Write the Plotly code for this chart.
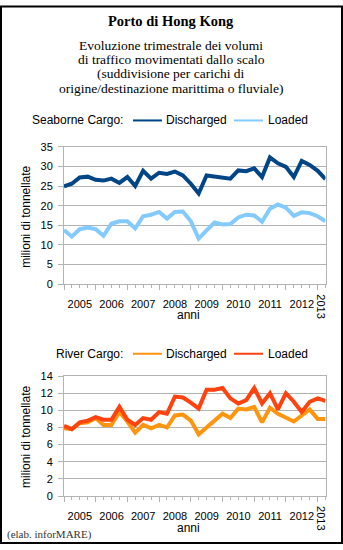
import plotly.graph_objects as go

W, H = 343, 550

years = list(range(2005, 2014))
quarter_months = ["01", "04", "07", "10"]
quarters = [f"{y}-{m}-01" for y in years for m in quarter_months][:34]  # 2005Q1 .. 2013Q2

sea_discharged = [24.9, 25.6, 27.2, 27.4, 26.6, 26.4, 26.9, 25.8, 27.3, 25.0,
                  28.9, 26.9, 28.4, 28.1, 28.7, 27.7, 25.6, 23.1, 27.7, 27.5,
                  27.3, 26.9, 29.0, 28.8, 29.5, 27.3, 32.3, 30.8, 29.9, 27.3,
                  31.4, 30.4, 28.9, 26.8]
sea_loaded = [13.8, 12.1, 14.0, 14.4, 14.0, 12.3, 15.4, 16.0, 16.0, 14.2,
              17.3, 17.7, 18.4, 16.7, 18.4, 18.5, 16.0, 11.6, 13.7, 15.7,
              15.2, 15.3, 17.0, 17.7, 17.5, 15.9, 19.2, 20.3, 19.5, 17.4,
              18.3, 18.1, 17.3, 16.0]
river_discharged = [7.9, 7.8, 8.5, 8.6, 9.1, 8.3, 8.3, 9.8, 8.7, 7.4,
                    8.3, 7.9, 8.3, 8.0, 9.4, 9.5, 8.8, 7.2, 8.0, 8.8,
                    9.6, 9.1, 10.2, 10.1, 10.4, 8.6, 10.3, 9.6, 9.1, 8.7,
                    9.4, 10.1, 9.0, 9.0]
river_loaded = [8.2, 7.8, 8.6, 8.8, 9.2, 8.9, 8.9, 10.4, 8.9, 8.3,
                9.1, 8.9, 9.8, 9.6, 11.6, 11.5, 10.9, 10.2, 12.4, 12.4,
                12.6, 11.4, 10.8, 11.2, 12.6, 10.8, 12.0, 10.1, 12.0, 11.0,
                9.8, 11.0, 11.4, 11.1]

title = "Porto di Hong Kong"
subtitle_lines = ["Evoluzione trimestrale dei volumi",
                  "di traffico movimentati dallo scalo",
                  "(suddivisione per carichi di",
                  "origine/destinazione marittima o fluviale)"]
y_title = "milioni di tonnellate"
x_title = "anni"
credit = "(elab. inforMARE)"

C_DARK = "#004586"
C_LIGHT = "#83caff"
C_ORANGE = "#ff950e"
C_RED = "#ff420e"
GRID = "#b3b3b3"
SANS = "Liberation Sans, Arial, sans-serif"
SERIF = "Liberation Serif, Times New Roman, serif"


def px(x):
    return x / W


def py(y):
    return 1 - y / H


fig = go.Figure()
fig.add_trace(go.Scatter(x=quarters, y=sea_discharged, mode="lines", name="Discharged",
                         line=dict(color=C_DARK, width=4), xaxis="x", yaxis="y"))
fig.add_trace(go.Scatter(x=quarters, y=sea_loaded, mode="lines", name="Loaded",
                         line=dict(color=C_LIGHT, width=4), xaxis="x", yaxis="y"))
fig.add_trace(go.Scatter(x=quarters, y=river_discharged, mode="lines", name="Discharged",
                         line=dict(color=C_ORANGE, width=4), xaxis="x2", yaxis="y2"))
fig.add_trace(go.Scatter(x=quarters, y=river_loaded, mode="lines", name="Loaded",
                         line=dict(color=C_RED, width=4), xaxis="x2", yaxis="y2"))

xdom = [px(64), px(325.5)]
top_dom = [py(284.3), py(144)]
bot_dom = [py(501), py(378.3)]

xcommon = dict(type="date", range=[quarters[0], quarters[-1]], tick0=quarters[0], dtick="M12",
               tickformat="%Y", ticklabelmode="period", ticks="outside", ticklen=5,
               tickcolor=GRID, tickwidth=1, showgrid=False, showline=True, linecolor=GRID,
               linewidth=1, mirror=True, zeroline=False, domain=xdom,
               tickfont=dict(family=SANS, size=11, color="#000"), ticklabelstandoff=5,
               minor=dict(dtick="M3", ticks="outside", ticklen=3, tickcolor=GRID, showgrid=False))
ycommon = dict(ticks="outside", ticklen=5, tickcolor=GRID, showgrid=True, gridcolor=GRID,
               gridwidth=1, showline=True, linecolor=GRID, mirror=True, zeroline=False,
               tickfont=dict(family=SANS, size=11, color="#000"), ticklabelstandoff=3)

fig.update_layout(
    width=W, height=H, margin=dict(l=0, r=0, t=0, b=0),
    paper_bgcolor="white", plot_bgcolor="white", showlegend=False,
    xaxis=dict(anchor="y", **xcommon),
    yaxis=dict(anchor="x", domain=top_dom, range=[0, 35], dtick=5, **ycommon),
    xaxis2=dict(anchor="y2", **xcommon),
    yaxis2=dict(anchor="x2", domain=bot_dom, range=[0, 14], dtick=2, **ycommon),
)

ann = []
ann.append(dict(text=f"<b>{title}</b>", x=px(171), y=py(15.5), font=dict(family=SERIF, size=14.5, color="#000")))
for i, (line, yy) in enumerate(zip(subtitle_lines, [40, 55, 69.5, 84])):
    ann.append(dict(text=line, x=px(171), y=py(yy), font=dict(family=SERIF, size=13.5, color="#000")))

# legend rows
for yy, label, cols in [(117, "Seaborne Cargo:", (C_DARK, C_LIGHT)), (355.5, "River Cargo:", (C_ORANGE, C_RED))]:
    ann.append(dict(text=label, x=px(124.5), y=py(yy), xanchor="right", font=dict(family=SANS, size=12, color="#000")))
    ann.append(dict(text="Discharged", x=px(163.5), y=py(yy), xanchor="left", font=dict(family=SANS, size=12, color="#000")))
    ann.append(dict(text="Loaded", x=px(265.5), y=py(yy), xanchor="left", font=dict(family=SANS, size=12, color="#000")))

# axis titles
for yc in [216, 441]:
    ann.append(dict(text=y_title, x=px(26.5), y=py(yc), textangle=-90, font=dict(family=SANS, size=12, color="#000")))
for yc in [316, 534]:
    ann.append(dict(text=x_title, x=px(189), y=py(yc), font=dict(family=SANS, size=12, color="#000")))
for yc in [306.5, 523]:
    ann.append(dict(text=str(years[-1]), x=px(321.5), y=py(yc), textangle=90, font=dict(family=SANS, size=11, color="#000")))

ann.append(dict(text=credit, x=px(5), y=py(540), xanchor="left", font=dict(family=SERIF, size=11, color="#333")))

for a in ann:
    a.setdefault("xanchor", "center")
    a.update(xref="paper", yref="paper", yanchor="middle", showarrow=False)
fig.update_layout(annotations=ann)

shapes = []
for yy, cols in [(117, (C_DARK, C_LIGHT)), (355.5, (C_ORANGE, C_RED))]:
    shapes.append(dict(type="line", xref="paper", yref="paper", x0=px(133), x1=px(162), y0=py(yy), y1=py(yy),
                       line=dict(color=cols[0], width=2)))
    shapes.append(dict(type="line", xref="paper", yref="paper", x0=px(234), x1=px(263), y0=py(yy), y1=py(yy),
                       line=dict(color=cols[1], width=2)))
shapes.append(dict(type="rect", xref="paper", yref="paper", x0=px(1), x1=px(342), y0=py(549), y1=py(0.5),
                   line=dict(color="#000", width=2)))
fig.update_layout(shapes=shapes)

fig.write_html("out.html")
